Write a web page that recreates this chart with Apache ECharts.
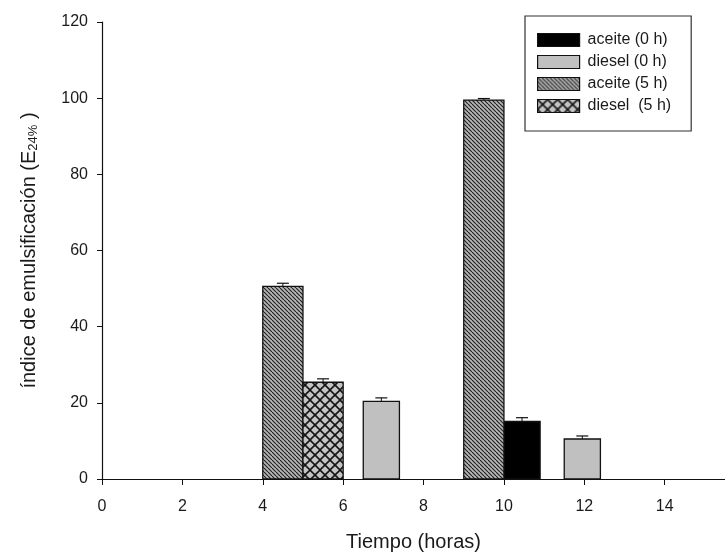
<!DOCTYPE html>
<html>
<head>
<meta charset="utf-8">
<script src="https://cdn.jsdelivr.net/npm/echarts@6/dist/echarts.min.js"></script>
<style>
  html, body { margin: 0; padding: 0; background: #fff; }
  #chart { width: 725px; height: 554px; }
</style>
</head>
<body>
<div id="chart"></div>
<script>
// Emulsification index per time bin; each bar spans [start, end] on the time axis
const seriesNames = ['aceite (0 h)', 'diesel (0 h)', 'aceite (5 h)', 'diesel  (5 h)'];

const aceite0Start = [10];
const aceite0End = [10.9];
const aceite0Value = [15.1];
const aceite0Err = [1.0];

const diesel0Start = [6.5, 11.5];
const diesel0End = [7.4, 12.4];
const diesel0Value = [20.4, 10.5];
const diesel0Err = [0.9, 0.8];

const aceite5Start = [4, 9];
const aceite5End = [5, 10];
const aceite5Value = [50.6, 99.5];
const aceite5Err = [0.8, 0.4];

const diesel5Start = [5];
const diesel5End = [6];
const diesel5Value = [25.4];
const diesel5Err = [0.9];

const xTicks = [0, 2, 4, 6, 8, 10, 12, 14];
const yTicks = [0, 20, 40, 60, 80, 100, 120];

const FONT = 'Liberation Sans, Arial, sans-serif';
const INK = '#1a1a1a';

// Fill patterns drawn on small canvases
function diagonalPattern() {
  const p = 4;
  const c = document.createElement('canvas');
  c.width = p; c.height = p;
  const g = c.getContext('2d');
  g.fillStyle = '#b8b8b8';
  g.fillRect(0, 0, p, p);
  g.strokeStyle = '#222222';
  g.lineWidth = 1.2;
  for (let k = -1; k <= 1; k++) {
    g.beginPath();
    g.moveTo(k * p, 0);
    g.lineTo(k * p + p, p);
    g.stroke();
  }
  return { image: c, repeat: 'repeat' };
}

function crossPattern() {
  const p = 10;
  const c = document.createElement('canvas');
  c.width = p; c.height = p;
  const g = c.getContext('2d');
  g.fillStyle = '#c4c4c4';
  g.fillRect(0, 0, p, p);
  g.strokeStyle = '#151515';
  g.lineWidth = 1.6;
  for (let k = -1; k <= 1; k++) {
    g.beginPath();
    g.moveTo(k * p, 0);
    g.lineTo(k * p + p, p);
    g.stroke();
    g.beginPath();
    g.moveTo(k * p + p, 0);
    g.lineTo(k * p, p);
    g.stroke();
  }
  return { image: c, repeat: 'repeat' };
}

const fills = ['#000000', '#c0c0c0', diagonalPattern(), crossPattern()];

function rows(starts, ends, values, errs) {
  return starts.map((s, i) => [s, ends[i], values[i], errs[i]]);
}

const seriesData = [
  rows(aceite0Start, aceite0End, aceite0Value, aceite0Err),
  rows(diesel0Start, diesel0End, diesel0Value, diesel0Err),
  rows(aceite5Start, aceite5End, aceite5Value, aceite5Err),
  rows(diesel5Start, diesel5End, diesel5Value, diesel5Err)
];

// Bar rectangle with an upward error whisker and cap
function makeRenderItem(fill) {
  return function (params, api) {
    const x0 = api.value(0), x1 = api.value(1), v = api.value(2), e = api.value(3);
    const pBL = api.coord([x0, 0]);
    const pTR = api.coord([x1, v]);
    const pErr = api.coord([(x0 + x1) / 2, v + e]);
    const cx = (pBL[0] + pTR[0]) / 2;
    const capHalf = 6;
    return {
      type: 'group',
      children: [
        {
          type: 'rect',
          shape: { x: pBL[0], y: pTR[1], width: pTR[0] - pBL[0], height: pBL[1] - pTR[1] },
          style: { fill: fill, stroke: '#111', lineWidth: 1.3 }
        },
        {
          type: 'line',
          shape: { x1: cx, y1: pTR[1], x2: cx, y2: pErr[1] },
          style: { stroke: '#111', lineWidth: 1 }
        },
        {
          type: 'line',
          shape: { x1: cx - capHalf, y1: pErr[1], x2: cx + capHalf, y2: pErr[1] },
          style: { stroke: '#111', lineWidth: 1.2 }
        }
      ]
    };
  };
}

const chart = echarts.init(document.getElementById('chart'), null, { renderer: 'canvas' });

chart.setOption({
  backgroundColor: '#ffffff',
  animation: false,
  grid: { left: 102, right: 0, top: 22, bottom: 75, outerBoundsMode: 'none', containLabel: false },
  legend: {
    orient: 'vertical',
    left: 525,
    top: 16,
    padding: [16, 20, 17, 12],
    itemGap: 6,
    itemWidth: 42,
    itemHeight: 13,
    icon: 'rect',
    borderColor: '#333',
    borderWidth: 1.2,
    backgroundColor: '#fff',
    data: seriesNames,
    textStyle: { fontFamily: FONT, fontSize: 16, color: INK, padding: [0, 0, 0, 3] },
    itemStyle: { borderColor: '#111', borderWidth: 1.2 }
  },
  xAxis: {
    type: 'value',
    min: 0,
    max: 15.5,
    interval: 2,
    name: 'Tiempo (horas)',
    nameLocation: 'middle',
    nameGap: 53,
    nameTextStyle: { fontFamily: FONT, fontSize: 20, color: INK },
    axisLine: { lineStyle: { color: '#111', width: 1.2 } },
    axisTick: { show: true, length: 6, customValues: xTicks, lineStyle: { color: '#111' } },
    axisLabel: { customValues: xTicks, margin: 20, fontFamily: FONT, fontSize: 16, color: INK },
    splitLine: { show: false }
  },
  yAxis: {
    type: 'value',
    min: 0,
    max: 120,
    interval: 20,
    name: '{a|índice de emulsificación (E}{s|24%}{a| )}',
    nameLocation: 'middle',
    nameRotate: 90,
    nameGap: 62,
    nameTextStyle: {
      rich: {
        a: { fontFamily: FONT, fontSize: 20, color: INK },
        s: { fontFamily: FONT, fontSize: 13, color: INK, padding: [9, 0, 0, 0] }
      }
    },
    axisLine: { show: true, lineStyle: { color: '#111', width: 1.2 } },
    axisTick: { show: true, length: 5, customValues: yTicks, lineStyle: { color: '#111' } },
    axisLabel: { customValues: yTicks, margin: 14, fontFamily: FONT, fontSize: 16, color: INK },
    splitLine: { show: false }
  },
  series: seriesNames.map((name, i) => ({
    name: name,
    type: 'custom',
    renderItem: makeRenderItem(fills[i]),
    itemStyle: { color: fills[i], borderColor: '#111', borderWidth: 1.2 },
    encode: { x: [0, 1], y: 2 },
    data: seriesData[i]
  }))
});
</script>
</body>
</html>
